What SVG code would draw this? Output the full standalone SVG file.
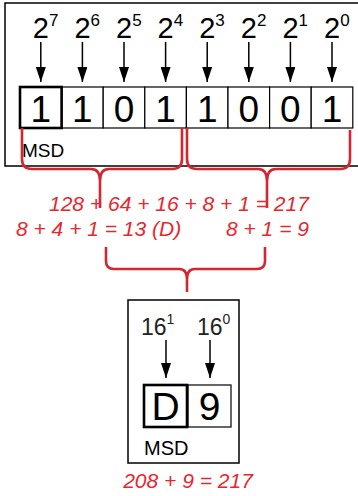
<svg xmlns="http://www.w3.org/2000/svg" width="358" height="496" viewBox="0 0 358 496">
<defs>
<style>
.frame{fill:#fff;stroke:#000;stroke-width:1.5}
.cell{fill:#fff;stroke:#000;stroke-width:1.2}
.msdcell{fill:#fff;stroke:#000;stroke-width:2.6}
.dig{font-family:"Liberation Sans",Arial,sans-serif;font-size:37px;fill:#000;text-anchor:middle}
.pow{font-family:"Liberation Sans",Arial,sans-serif;font-size:29px;fill:#000}
.sup{font-size:17px}
.pow16{font-family:"Liberation Sans",Arial,sans-serif;font-size:23px;fill:#222}
.sup16{font-size:14px}
.msd{font-family:"Liberation Sans",Arial,sans-serif;font-size:19px;fill:#000}
.arrow{stroke:#000;stroke-width:1.5;fill:none;marker-end:url(#ah)}
.brace{fill:none;stroke:#d42630;stroke-width:2.6;stroke-linejoin:round}
.sum{font-family:"Liberation Sans",Arial,sans-serif;font-size:21px;font-style:italic;fill:#e8262e}
</style>
<marker id="ah" viewBox="0 0 10 15" markerWidth="10" markerHeight="15" refX="5" refY="15" orient="0" markerUnits="userSpaceOnUse">
<path d="M0,0 L10,0 L5,15 z" fill="#000"/>
</marker>
</defs>

<g id="binary-box">
<rect class="frame" x="5" y="3" width="360" height="163"/>
<text class="pow" x="32.8" y="38">2<tspan class="sup" dy="-12">7</tspan></text>
<text class="pow" x="74.4" y="38">2<tspan class="sup" dy="-12">6</tspan></text>
<text class="pow" x="116" y="38">2<tspan class="sup" dy="-12">5</tspan></text>
<text class="pow" x="157.6" y="38">2<tspan class="sup" dy="-12">4</tspan></text>
<text class="pow" x="199.2" y="38">2<tspan class="sup" dy="-12">3</tspan></text>
<text class="pow" x="240.8" y="38">2<tspan class="sup" dy="-12">2</tspan></text>
<text class="pow" x="282.4" y="38">2<tspan class="sup" dy="-12">1</tspan></text>
<text class="pow" x="324" y="38">2<tspan class="sup" dy="-12">0</tspan></text>
<rect class="cell" x="61.6" y="87" width="41.6" height="41"/>
<rect class="cell" x="103.2" y="87" width="41.6" height="41"/>
<rect class="cell" x="144.8" y="87" width="41.6" height="41"/>
<rect class="cell" x="186.4" y="87" width="41.6" height="41"/>
<rect class="cell" x="228" y="87" width="41.6" height="41"/>
<rect class="cell" x="269.6" y="87" width="41.6" height="41"/>
<rect class="cell" x="311.2" y="87" width="41.6" height="41"/>
<rect class="msdcell" x="20" y="87" width="41.6" height="41"/>
<text class="dig" x="40.8" y="122">1</text>
<text class="dig" x="82.4" y="122">1</text>
<text class="dig" x="124" y="122">0</text>
<text class="dig" x="165.6" y="122">1</text>
<text class="dig" x="207.2" y="122">1</text>
<text class="dig" x="248.8" y="122">0</text>
<text class="dig" x="290.4" y="122">0</text>
<text class="dig" x="332" y="122">1</text>
<text class="msd" x="22" y="157">MSD</text>
</g>

<g id="hex-box">
<rect class="frame" x="128" y="300" width="111" height="163"/>
<text class="pow16" x="141" y="335">16<tspan class="sup16" dy="-11">1</tspan></text>
<text class="pow16" x="197" y="335">16<tspan class="sup16" dy="-11">0</tspan></text>
<rect class="cell" x="188" y="385" width="43" height="42"/>
<rect class="msdcell" x="144" y="385" width="43" height="42"/>
<text class="dig" x="165.5" y="420" style="font-size:39px">D</text>
<text class="dig" x="209.5" y="420" style="font-size:39px">9</text>
<text class="msd" x="144" y="455" style="font-size:20px">MSD</text>
</g>

<g id="connectors">
<line class="arrow" x1="40.8" y1="42" x2="40.8" y2="82"/>
<line class="arrow" x1="82.4" y1="42" x2="82.4" y2="82"/>
<line class="arrow" x1="124" y1="42" x2="124" y2="82"/>
<line class="arrow" x1="165.6" y1="42" x2="165.6" y2="82"/>
<line class="arrow" x1="207.2" y1="42" x2="207.2" y2="82"/>
<line class="arrow" x1="248.8" y1="42" x2="248.8" y2="82"/>
<line class="arrow" x1="290.4" y1="42" x2="290.4" y2="82"/>
<line class="arrow" x1="332" y1="42" x2="332" y2="82"/>
<line class="arrow" x1="166" y1="340" x2="166" y2="378"/>
<line class="arrow" x1="210" y1="340" x2="210" y2="378"/>
<path class="brace" d="M22,128 L22,159 Q22,169 32,169 L91,169 Q100,169 100,181 L100,208 M100,181 Q100,169 109,169 L172,169 Q182,169 182,159 L182,128"/>
<path class="brace" d="M187,128 L187,159 Q187,169 197,169 L258,169 Q267,169 267,181 L267,208 M267,181 Q267,169 276,169 L340,169 Q350,169 350,159 L350,130"/>
<path class="brace" d="M106,247 L106,261 Q106,269 114,269 L179,269 Q187,269 187,279 L187,292 M187,279 Q187,269 195,269 L257,269 Q265,269 265,261 L265,247"/>
</g>

<g id="sums">
<text class="sum" x="49" y="211">128 + 64 + 16 + 8 + 1 = 217</text>
<text class="sum" x="16" y="236">8 + 4 + 1 = 13 (D)</text>
<text class="sum" x="226" y="236">8 + 1 = 9</text>
<text class="sum" x="188" y="488" text-anchor="middle">208 + 9 = 217</text>
</g>
</svg>
